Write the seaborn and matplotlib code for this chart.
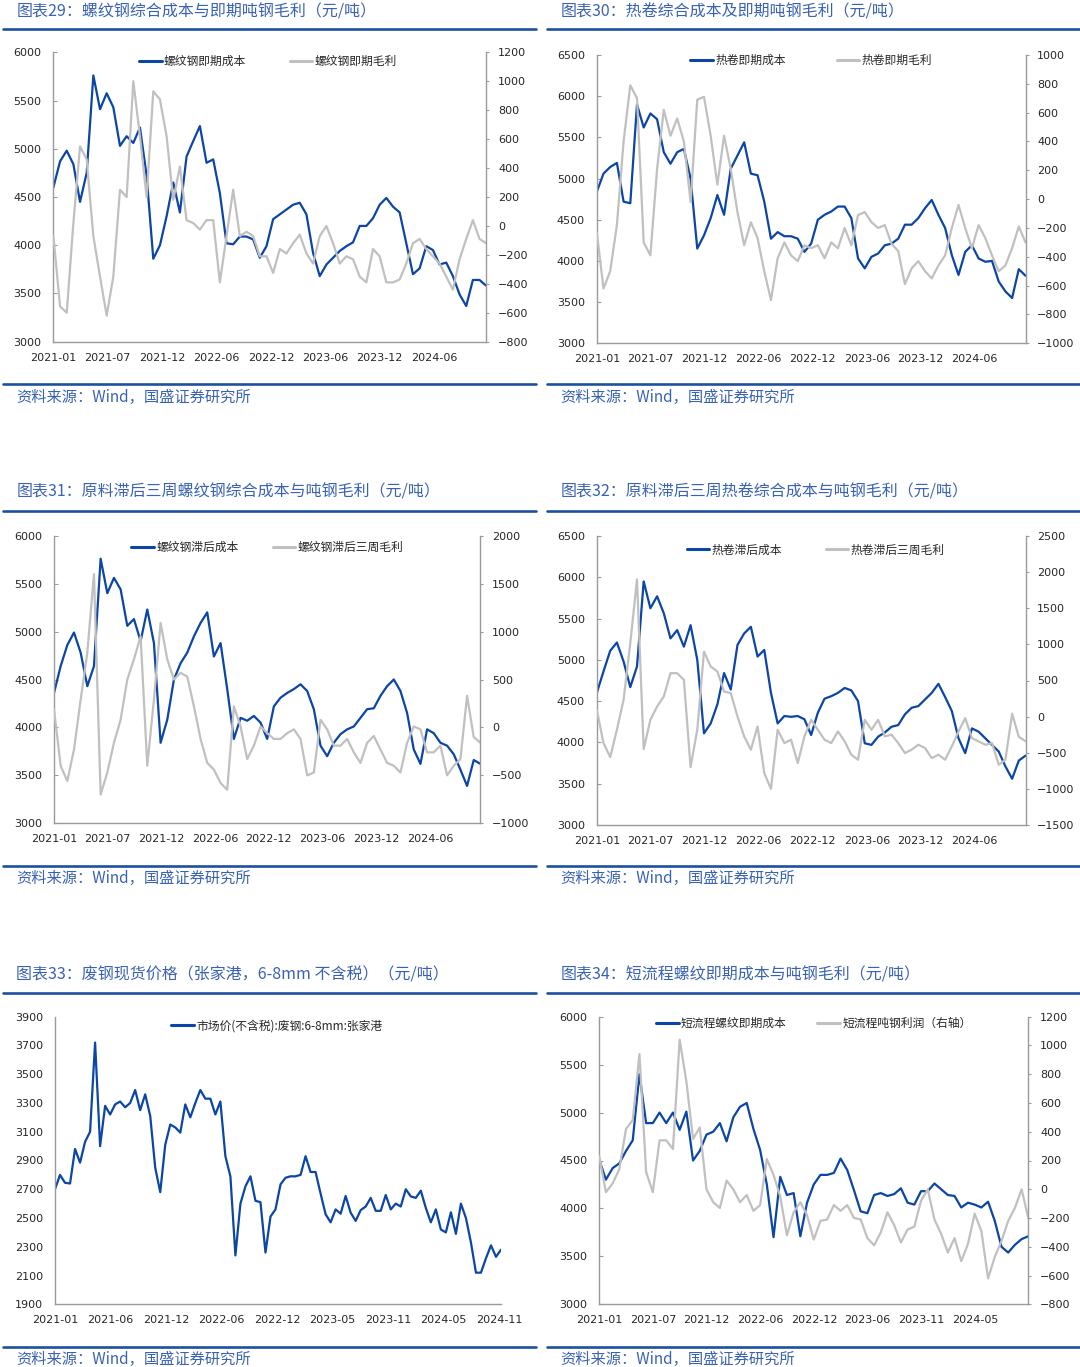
import numpy as np
import matplotlib
matplotlib.use('Agg')
import matplotlib.pyplot as plt
import seaborn as sns
from matplotlib.lines import Line2D

# ---------------- data ----------------
ticks_a = ['2021-01', '2021-07', '2021-12', '2022-06', '2022-12', '2023-06', '2023-12', '2024-06']
ticks_33 = ['2021-01', '2021-06', '2021-12', '2022-06', '2022-12', '2023-05', '2023-11', '2024-05', '2024-11']
ticks_34 = ['2021-01', '2021-07', '2021-12', '2022-06', '2022-12', '2023-06', '2023-11', '2024-05']

rebar_cost = [4600, 4870, 4980, 4840, 4450, 4750, 5760, 5410, 5575, 5430,
              5030, 5130, 5060, 5220, 4720, 3860, 4000, 4300, 4650, 4340,
              4920, 5080, 5235, 4855, 4890, 4540, 4020, 4010, 4090, 4090,
              4060, 3870, 3990, 4270, 4320, 4370, 4420, 4440, 4320, 3920,
              3680, 3800, 3870, 3940, 3990, 4030, 4200, 4200, 4280, 4420,
              4490, 4400, 4340, 4020, 3700, 3760, 3990, 3950, 3800, 3820,
              3680, 3490, 3370, 3640, 3640, 3580]
rebar_margin = [-70, -556, -600, 20, 550, 460, -70, -350, -620, -350,
                250, 200, 1000, 620, 200, 930, 875, 620, 180, 410,
                40, 20, -25, 40, 40, -390, -70, 250, -70, -40,
                -70, -210, -210, -325, -160, -190, -120, -60, -190, -260,
                -70, 0, -120, -260, -210, -230, -350, -390, -160, -210,
                -390, -390, -370, -260, -120, -90, -160, -210, -260, -350,
                -440, -230, -90, 40, -90, -120]

hrc_cost = [4840, 5060, 5140, 5190, 4720, 4700, 5900, 5620, 5790, 5720,
            5320, 5180, 5320, 5360, 5000, 4150, 4310, 4520, 4800, 4560,
            5120, 5280, 5440, 5060, 5040, 4720, 4270, 4350, 4300, 4300,
            4270, 4110, 4210, 4500, 4560, 4600, 4660, 4660, 4520, 4030,
            3910, 4050, 4090, 4190, 4210, 4270, 4440, 4440, 4520, 4640,
            4740, 4560, 4400, 4070, 3830, 4110, 4190, 4030, 3990, 4000,
            3750, 3630, 3550, 3900, 3820]
hrc_margin = [-230, -620, -500, -180, 400, 790, 700, -300, -390, 210,
              620, 440, 560, 400, -20, 690, 710, 440, 100, 440,
              210, -90, -320, -160, -270, -500, -700, -410, -300, -390,
              -430, -320, -340, -320, -410, -300, -340, -200, -320, -110,
              -90, -160, -200, -180, -310, -360, -590, -480, -430, -500,
              -550, -460, -390, -200, -40, -200, -340, -180, -270, -390,
              -500, -460, -340, -190, -300]

rebar_lag_cost = [4360, 4640, 4860, 4990, 4780, 4430, 4640, 5760, 5400, 5560,
                  5440, 5060, 5130, 4900, 5230, 4880, 3840, 4080, 4500, 4670,
                  4780, 4950, 5090, 5200, 4740, 4880, 4400, 3880, 4100, 4070,
                  4120, 4050, 3880, 4220, 4310, 4360, 4400, 4450, 4380, 4190,
                  3810, 3700, 3840, 3930, 3980, 4010, 4100, 4190, 4200, 4330,
                  4430, 4500, 4380, 4150, 3770, 3620, 3980, 3940, 3840, 3810,
                  3720, 3560, 3390, 3660, 3620]
rebar_lag_margin = [190, -400, -560, -230, 290, 780, 1600, -700, -470, -160,
                    80, 500, 710, 950, -400, 290, 1090, 710, 500, 570,
                    530, 220, -120, -370, -440, -580, -650, 220, 10, -330,
                    -190, 10, -60, -120, -120, -60, -20, -120, -500, -470,
                    80, -20, -190, -190, -120, -260, -370, -160, -90, -230,
                    -370, -400, -470, -160, 10, -20, -260, -260, -190, -500,
                    -400, -330, 330, -100, -160]

hrc_lag_cost = [4600, 4860, 5110, 5210, 4980, 4670, 4920, 5950, 5625, 5770,
                5565, 5260, 5360, 5160, 5420, 5000, 4110, 4230, 4460, 4840,
                4640, 5180, 5320, 5400, 5040, 5120, 4600, 4230, 4320, 4310,
                4320, 4280, 4090, 4360, 4530, 4560, 4600, 4660, 4630, 4500,
                3990, 3970, 4070, 4120, 4190, 4210, 4340, 4420, 4440, 4520,
                4600, 4710, 4550, 4380, 4050, 3870, 4170, 4130, 4050, 3970,
                3890, 3710, 3560, 3780, 3840]
hrc_lag_margin = [95, -366, -560, -182, 233, 1016, 1900, -450, -44, 140,
                  279, 601, 601, 509, -700, -182, 900, 694, 624, 348,
                  325, 3, -274, -458, -136, -781, -1000, -182, -366, -320,
                  -643, -274, -44, -182, -320, -366, -205, -343, -527, -597,
                  -44, -182, -44, -274, -251, -366, -504, -458, -389, -435,
                  -574, -527, -597, -412, -205, -21, -297, -343, -389, -366,
                  -666, -597, 40, -280, -340]

scrap_price = [2700, 2800, 2745, 2740, 2980, 2885, 3030, 3100, 3720, 3000,
               3280, 3220, 3290, 3310, 3270, 3300, 3390, 3250, 3360, 3210,
               2850, 2680, 3010, 3150, 3130, 3094, 3290, 3200, 3300, 3390,
               3330, 3330, 3220, 3310, 2930, 2790, 2240, 2600, 2720, 2790,
               2620, 2610, 2260, 2510, 2560, 2734, 2780, 2790, 2790, 2800,
               2930, 2820, 2820, 2670, 2526, 2470, 2560, 2530, 2653, 2537,
               2480, 2555, 2580, 2640, 2550, 2550, 2660, 2560, 2600, 2580,
               2700, 2650, 2640, 2690, 2570, 2470, 2560, 2420, 2400, 2540,
               2390, 2600, 2500, 2330, 2120, 2120, 2220, 2310, 2230, 2280]

eaf_cost = [4510, 4300, 4420, 4470, 4600, 4710, 5400, 4890, 4890, 5000,
            4890, 5000, 4820, 5010, 4500, 4600, 4770, 4800, 4890, 4700,
            4950, 5060, 5100, 4830, 4610, 4250, 3700, 4330, 4140, 4160,
            3710, 4060, 4250, 4350, 4350, 4370, 4520, 4400, 4190, 3970,
            3950, 4140, 4160, 4130, 4150, 4210, 4060, 4040, 4180, 4180,
            4260, 4200, 4140, 4130, 4010, 4060, 4040, 4010, 4070, 3870,
            3600, 3540, 3620, 3680, 3710]
eaf_profit = [230, -20, 40, 140, 420, 480, 940, 120, -20, 340,
              340, 280, 1040, 750, 350, 430, 0, -90, -130, 60,
              0, -90, -40, -150, -110, 210, 100, -50, -320, -160,
              -90, -180, -350, -220, -210, -110, -150, -110, -200, -210,
              -340, -390, -300, -160, -250, -370, -280, -260, -80, 0,
              -210, -310, -440, -340, -500, -380, -170, -290, -620, -470,
              -360, -220, -130, 0, -200]

# ---------------- style ----------------
sns.set_style('white')
plt.rcParams['font.family'] = ['DejaVu Sans', 'Noto Sans CJK SC']
CJK = ['Noto Sans CJK SC', 'DejaVu Sans']

BLUE = '#0B45A6'
GRAY = '#C0C0C0'
TITLE_C = '#3A62B3'
RULE_C = '#1E50A2'
TXT = '#262626'
SPINE_C = '#9A9A9A'

W, H = 1080, 1367
fig = plt.figure(figsize=(W / 100, H / 100), dpi=100)


def fx(x):
    return x / W


def fy(y):
    return 1 - y / H


def header_footer(x0, x1, tx, title, ty, rule_top, rule_bot, src_y):
    fig.text(fx(tx), fy(ty), title, family=CJK, fontsize=11.5, color=TITLE_C,
             va='center', ha='left')
    fig.add_artist(Line2D([fx(x0), fx(x1)], [fy(rule_top)] * 2, color=RULE_C, lw=1.9))
    fig.add_artist(Line2D([fx(x0), fx(x1)], [fy(rule_bot)] * 2, color=RULE_C, lw=1.9))
    fig.text(fx(tx), fy(src_y), '资料来源：Wind，国盛证券研究所', family=CJK,
             fontsize=11, color=TITLE_C, va='center', ha='left')


def panel(box, xlabels, xmax, s1, lab1, lim1, step1, s2=None, lab2=None,
          lim2=None, step2=None, leg_cx=0.5, leg_off=9, colsp=4.0):
    l, r, t, b = box
    ax = fig.add_axes([fx(l), fy(b), (r - l) / W, (b - t) / H])
    xs1 = np.linspace(0, xmax, len(s1))
    sns.lineplot(x=xs1, y=np.array(s1, float), ax=ax, color=BLUE, linewidth=1.6,
                 legend=False)
    ax.set_xlim(0, xmax)
    ax.set_ylim(*lim1)
    ax.set_yticks(np.arange(lim1[0], lim1[1] + 1, step1))
    ax.set_xticks(range(len(xlabels)))
    ax.set_xticklabels(xlabels)
    ax.set_xlabel('')
    ax.set_ylabel('')
    ax.tick_params(axis='x', direction='in', length=3, width=0.8, color=SPINE_C,
                   pad=8, labelsize=8, labelcolor=TXT)
    ax.tick_params(axis='y', direction='in', length=3, width=0.8, color=SPINE_C,
                   pad=8.5, labelsize=8, labelcolor=TXT)
    for sp in ['top', 'right']:
        ax.spines[sp].set_visible(False)
    for sp in ['left', 'bottom']:
        ax.spines[sp].set_color(SPINE_C)
        ax.spines[sp].set_linewidth(1.0)
    handles = [Line2D([], [], color=BLUE, lw=2.2)]
    labels = [lab1]
    legax = ax
    if s2 is not None:
        ax2 = ax.twinx()
        xs2 = np.linspace(0, xmax, len(s2))
        sns.lineplot(x=xs2, y=np.array(s2, float), ax=ax2, color=GRAY,
                     linewidth=1.6, legend=False)
        ax2.set_ylim(*lim2)
        ax2.set_yticks(np.arange(lim2[0], lim2[1] + 1, step2))
        ax2.set_ylabel('')
        ax2.tick_params(axis='y', direction='out', length=2.5, width=0.8,
                        color=SPINE_C, pad=6, labelsize=8, labelcolor=TXT)
        for sp in ['top', 'left', 'bottom']:
            ax2.spines[sp].set_visible(False)
        ax2.spines['right'].set_color(SPINE_C)
        ax2.spines['right'].set_linewidth(1.0)
        handles.append(Line2D([], [], color=GRAY, lw=2.2))
        labels.append(lab2)
        legax = ax2
    hpx = b - t
    legax.legend(handles, labels, ncol=len(labels), loc='center',
                 bbox_to_anchor=(leg_cx, 1 - leg_off / hpx), frameon=False,
                 prop={'family': CJK, 'size': 8.5}, handlelength=1.9,
                 handletextpad=0.2, columnspacing=colsp, labelcolor=TXT,
                 borderpad=0, borderaxespad=0)
    return ax


# ---------------- headers / footers ----------------
header_footer(3, 536, 16.5, '图表29：螺纹钢综合成本与即期吨钢毛利（元/吨）', 11.7, 29.3, 384, 397)
header_footer(547, 1080, 560.7, '图表30：热卷综合成本及即期吨钢毛利（元/吨）', 11.7, 29.3, 384, 397)
header_footer(3, 536, 16.5, '图表31：原料滞后三周螺纹钢综合成本与吨钢毛利（元/吨）', 492.3, 511, 866, 878.5)
header_footer(547, 1080, 560.7, '图表32：原料滞后三周热卷综合成本与吨钢毛利（元/吨）', 492.3, 511, 866, 878.5)
header_footer(3, 536, 16.5, '图表33：废钢现货价格（张家港，6-8mm 不含税）（元/吨）', 975, 993.3, 1347.3, 1359)
header_footer(547, 1080, 560.7, '图表34：短流程螺纹即期成本与吨钢毛利（元/吨）', 975, 993.3, 1347.3, 1359)

# ---------------- panels ----------------
panel((53.4, 486.2, 52.3, 341.7), ticks_a, 7.96, rebar_cost, '螺纹钢即期成本',
      (3000, 6000), 500, rebar_margin, '螺纹钢即期毛利', (-800, 1200), 200,
      leg_cx=0.496, leg_off=9, colsp=3.7)
panel((596.8, 1025.5, 55, 343.3), ticks_a, 7.94, hrc_cost, '热卷即期成本',
      (3000, 6500), 500, hrc_margin, '热卷即期毛利', (-1000, 1000), 200,
      leg_cx=0.50, leg_off=5.7, colsp=4.3)
panel((54, 480.4, 535.7, 823.3), ticks_a, 7.94, rebar_lag_cost, '螺纹钢滞后成本',
      (3000, 6000), 500, rebar_lag_margin, '螺纹钢滞后三周毛利', (-1000, 2000), 500,
      leg_cx=0.50, leg_off=12, colsp=2.9)
panel((596.8, 1025.5, 536, 825), ticks_a, 7.94, hrc_lag_cost, '热卷滞后成本',
      (3000, 6500), 500, hrc_lag_margin, '热卷滞后三周毛利', (-1500, 2500), 500,
      leg_cx=0.51, leg_off=14, colsp=3.7)
panel((55, 501, 1016.7, 1304.3), ticks_33, 8.03, scrap_price,
      '市场价(不含税):废钢:6-8mm:张家港', (1900, 3900), 200,
      leg_cx=0.497, leg_off=9)
panel((599.2, 1028.3, 1016.7, 1304.3), ticks_34, 7.99, eaf_cost, '短流程螺纹即期成本',
      (3000, 6000), 500, eaf_profit, '短流程吨钢利润（右轴）', (-800, 1200), 200,
      leg_cx=0.50, leg_off=6.6, colsp=2.6)

fig.savefig('out.png', dpi=100, facecolor='white')
